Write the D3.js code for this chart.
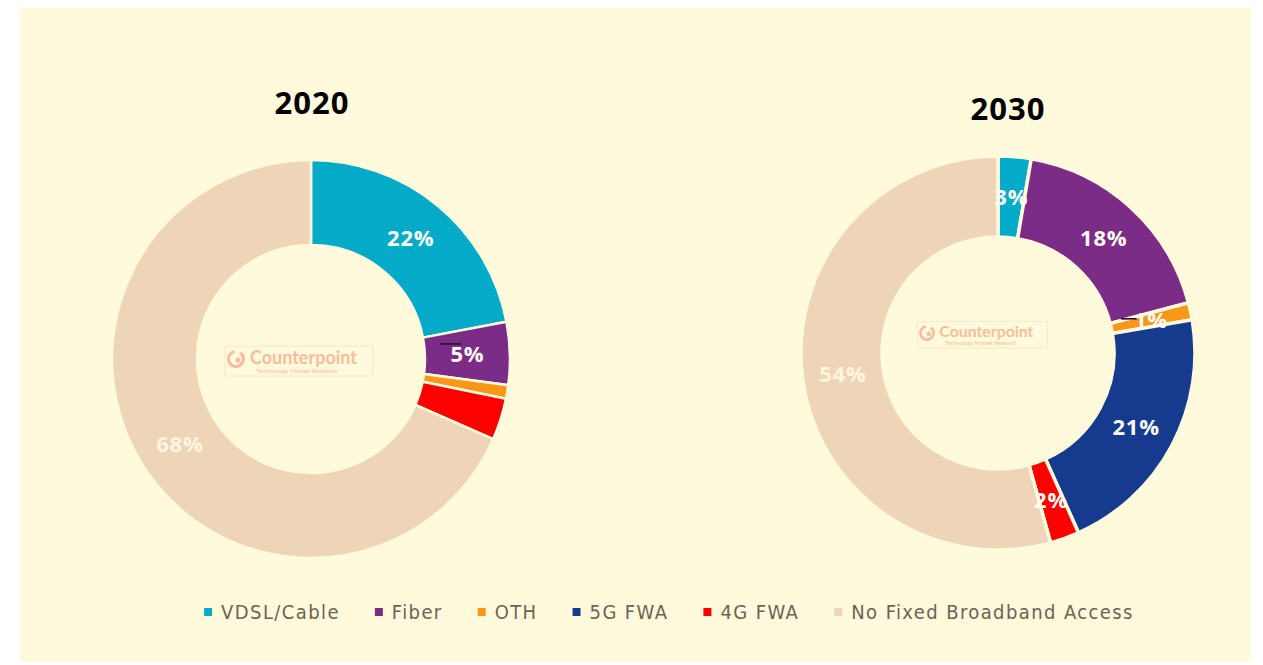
<!DOCTYPE html>
<html>
<head>
<meta charset="utf-8">
<script src="https://cdn.jsdelivr.net/npm/d3@7"></script>
<style>
  body { margin: 0; background: #fff; }
</style>
</head>
<body>
<div id="chart"></div>
<script>
// data
const categories = ["VDSL/Cable", "Fiber", "OTH", "5G FWA", "4G FWA", "No Fixed Broadband Access"];
const colors = ["#04abc9", "#7b2c87", "#fb9718", "#163a8d", "#fd0000", "#efd5b8"];
const years = ["2020", "2030"];
const values2020 = [22.0, 5.1, 1.1, 0, 3.4, 68.4];
const values2030 = [2.7, 18.2, 1.4, 21.0, 2.4, 54.3];
// which slices carry a printed label
const shown2020 = [true, true, false, false, false, true];
const shown2030 = [true, true, true, true, true, true];

const W = 1263, H = 665;
const bg = "#fffadb";

const svg = d3.select("#chart")
  .append("svg")
    .attr("width", W)
    .attr("height", H);

// panel
svg.append("rect")
  .attr("x", 20).attr("y", 8)
  .attr("width", 1231).attr("height", 654)
  .attr("fill", bg);

const pie = d3.pie().sort(null).value(d => d.v);

const donuts = [
  {year: years[0], vals: values2020, shown: shown2020, cx: 311, cy: 359, r0: 114, r1: 199, sep: 2.5, tx: 312, ty: 114},
  {year: years[1], vals: values2030, shown: shown2030, cx: 998, cy: 353, r0: 116, r1: 197, sep: 3.5, tx: 1008, ty: 120}
];

donuts.forEach(function(d) {
  const g = svg.append("g")
    .attr("transform", `translate(${d.cx},${d.cy})`);

  const arc = d3.arc().innerRadius(d.r0).outerRadius(d.r1);
  const rows = categories.map((c, i) => ({c: c, v: d.vals[i], i: i}));
  const arcs = pie(rows);

  // watermark
  const wm = g.append("g").attr("opacity", 0.55)
    .attr("transform", d.year === "2020" ? "translate(0,0)" : "translate(-5,-20) scale(0.88)");
  wm.append("rect")
    .attr("x", -86).attr("y", -13).attr("width", 148).attr("height", 30)
    .attr("fill", "none").attr("stroke", "#f6c0a8").attr("stroke-width", 0.6);
  wm.append("path")
    .attr("d", d3.arc().innerRadius(6).outerRadius(9).startAngle(0.6).endAngle(2 * Math.PI - 0.2)())
    .attr("transform", "translate(-75,0)")
    .attr("fill", "#f58a6c");
  wm.append("circle").attr("cx", -73).attr("cy", 1).attr("r", 2.5).attr("fill", "#f58a6c");
  wm.append("text")
    .attr("x", -61).attr("y", 5)
    .attr("font-family", "Lato, 'Open Sans', sans-serif")
    .attr("font-weight", "bold")
    .attr("font-size", 18)
    .attr("fill", "#f58a6c")
    .text("Counterpoint");
  wm.append("text")
    .attr("x", -55).attr("y", 14)
    .attr("font-family", "Lato, sans-serif")
    .attr("font-size", 6.5)
    .attr("fill", "#f58a6c")
    .text("Technology Market Research");

  // slices
  g.selectAll("path.slice")
    .data(arcs.filter(a => a.data.v > 0))
    .enter()
    .append("path")
      .attr("class", "slice")
      .attr("d", arc)
      .attr("fill", a => colors[a.data.i])
      .attr("stroke", bg)
      .attr("stroke-width", d.sep)
      .attr("stroke-linejoin", "miter");

  // little leader stub next to the OTH slice
  const oth = arcs[2];
  const oc = arc.centroid(oth);
  g.append("line")
    .attr("x1", oc[0] - (d.year === "2020" ? 25 : 30)).attr("x2", oc[0] - (d.year === "2020" ? 4 : 14))
    .attr("y1", oc[1] - (d.year === "2020" ? 41 : 1)).attr("y2", oc[1] - (d.year === "2020" ? 41 : 1))
    .attr("stroke", "#2a1030").attr("stroke-width", 1.6);

  // labels
  g.selectAll("text.lbl")
    .data(arcs.filter(a => d.shown[a.data.i]))
    .enter()
    .append("text")
      .attr("class", "lbl")
      .attr("transform", a => `translate(${arc.centroid(a)})`)
      .attr("text-anchor", "middle")
      .attr("dy", "0.36em")
      .attr("font-family", "'Open Sans', 'Noto Sans', sans-serif")
      .attr("font-weight", "bold")
      .attr("font-size", 22)
      .attr("letter-spacing", 0.8)
      .attr("fill", a => a.data.i === 5 ? "#fff6e0" : "#fffdf5")
      .text(a => Math.round(a.data.v) + "%");

  // title
  svg.append("text")
    .attr("x", d.tx).attr("y", d.ty)
    .attr("text-anchor", "middle")
    .attr("font-family", "'Open Sans', 'Noto Sans', sans-serif")
    .attr("font-weight", "bold")
    .attr("font-size", 31)
    .attr("letter-spacing", 1)
    .attr("fill", "#000")
    .text(d.year);
});

// legend
const legend = svg.append("g").attr("class", "legend");
const items = legend.selectAll("g.item")
  .data(categories)
  .enter()
  .append("g")
    .attr("class", "item");
items.append("rect")
  .attr("x", 0).attr("y", -4)
  .attr("width", 8).attr("height", 8)
  .attr("fill", (c, i) => colors[i]);
items.append("text")
  .attr("x", 17).attr("y", 0)
  .attr("dy", "0.35em")
  .attr("font-family", "'DejaVu Sans Condensed', 'DejaVu Sans', sans-serif")
  .attr("font-size", 20)
  .attr("letter-spacing", 1.4)
  .attr("fill", "#6e6256")
  .text(c => c);

let xPos = 0;
items.each(function() {
  const t = d3.select(this).select("text").node().getComputedTextLength();
  d3.select(this).attr("transform", `translate(${xPos},0)`);
  xPos += 17 + t + 35;
});
const total = xPos - 35;
legend.attr("transform", `translate(${669 - total / 2},612)`);
</script>
</body>
</html>
